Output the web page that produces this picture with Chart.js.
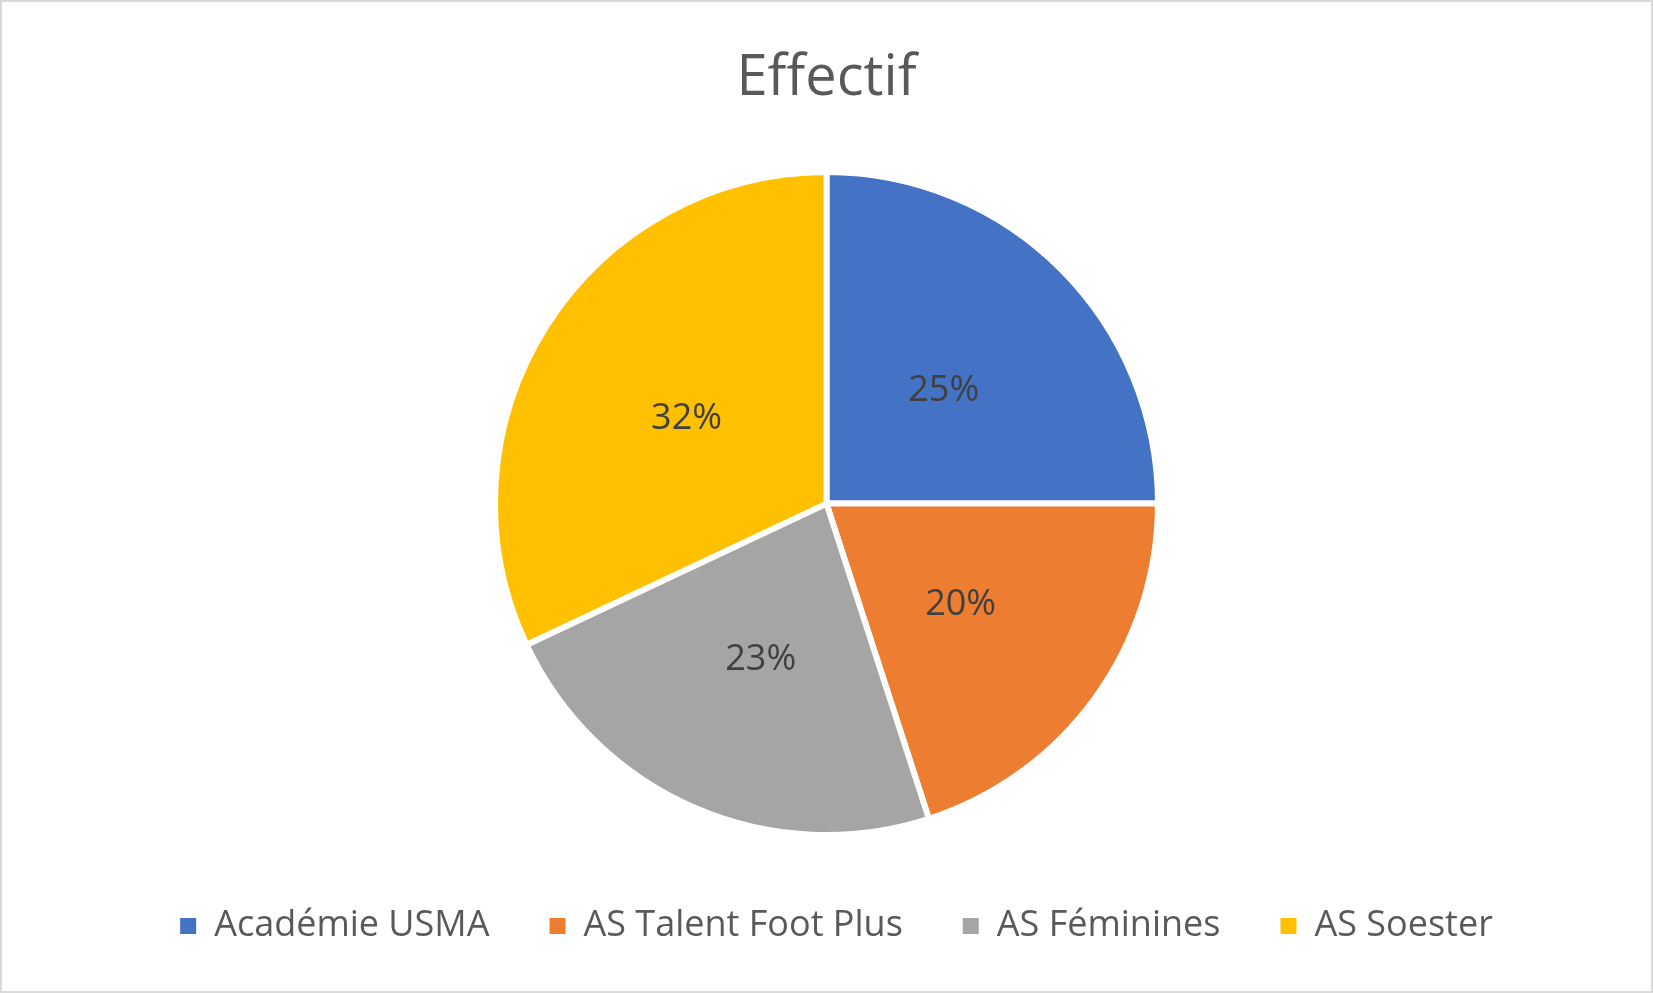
<!DOCTYPE html>
<html lang="fr">
<head>
<meta charset="utf-8">
<title>Effectif</title>
<script src="https://cdn.jsdelivr.net/npm/chart.js@4.4.1/dist/chart.umd.min.js"></script>
<style>
  html, body { margin: 0; padding: 0; background: #fff; overflow: hidden; }
  #wrap { position: relative; width: 1653px; height: 993px; }
  #frame { position: absolute; inset: 0; border: 2px solid #d9d9d9; pointer-events: none; }
</style>
</head>
<body>
<div id="wrap">
  <canvas id="effectifChart"></canvas>
  <div id="frame"></div>
</div>
<script>
// chart data
const clubs = ["Académie USMA", "AS Talent Foot Plus", "AS Féminines", "AS Soester"];
const effectif = [25, 20, 23, 32];
const sliceColors = ["#4472C4", "#ED7D31", "#A5A5A5", "#FFC000"];

// percentage labels in the middle of each slice
const sliceLabels = {
  id: "sliceLabels",
  afterDatasetsDraw(chart) {
    const ctx = chart.ctx;
    const meta = chart.getDatasetMeta(0);
    const total = effectif.reduce((a, b) => a + b, 0);
    ctx.save();
    ctx.font = "36px 'Open Sans'";
    ctx.fillStyle = "#404040";
    ctx.textAlign = "center";
    ctx.textBaseline = "middle";
    meta.data.forEach((arc, i) => {
      const pos = arc.tooltipPosition();
      const pct = Math.round(effectif[i] / total * 100);
      ctx.fillText(pct + "%", pos.x, pos.y + 4);
    });
    ctx.restore();
  }
};

// the legend row sits a little right of centre in the original
const legendNudge = {
  id: "legendNudge",
  afterLayout(chart) {
    chart.legend.left += 10;
    chart.legend.right += 10;
  }
};

new Chart(document.getElementById("effectifChart"), {
  type: "pie",
  data: {
    labels: clubs,
    datasets: [{
      data: effectif,
      backgroundColor: sliceColors,
      borderColor: "#ffffff",
      borderWidth: 6,
      radius: "97.1%"
    }]
  },
  options: {
    responsive: true,
    maintainAspectRatio: false,
    animation: false,
    layout: { padding: { top: 0, bottom: 39, left: 0, right: 0 } },
    plugins: {
      title: {
        display: true,
        text: "Effectif",
        color: "#595959",
        font: { family: "'Open Sans'", size: 56, weight: "normal" },
        padding: { top: 45, bottom: 47 }
      },
      legend: {
        position: "bottom",
        labels: {
          color: "#595959",
          font: { family: "'Open Sans'", size: 36 },
          boxWidth: 16,
          boxHeight: 16,
          padding: 60,
          // no white outline on the legend squares
          generateLabels: (chart) =>
            Chart.overrides.pie.plugins.legend.labels.generateLabels(chart)
              .map(item => ({ ...item, lineWidth: 0 }))
        }
      },
      tooltip: { enabled: false }
    }
  },
  plugins: [sliceLabels, legendNudge]
});
</script>
</body>
</html>
